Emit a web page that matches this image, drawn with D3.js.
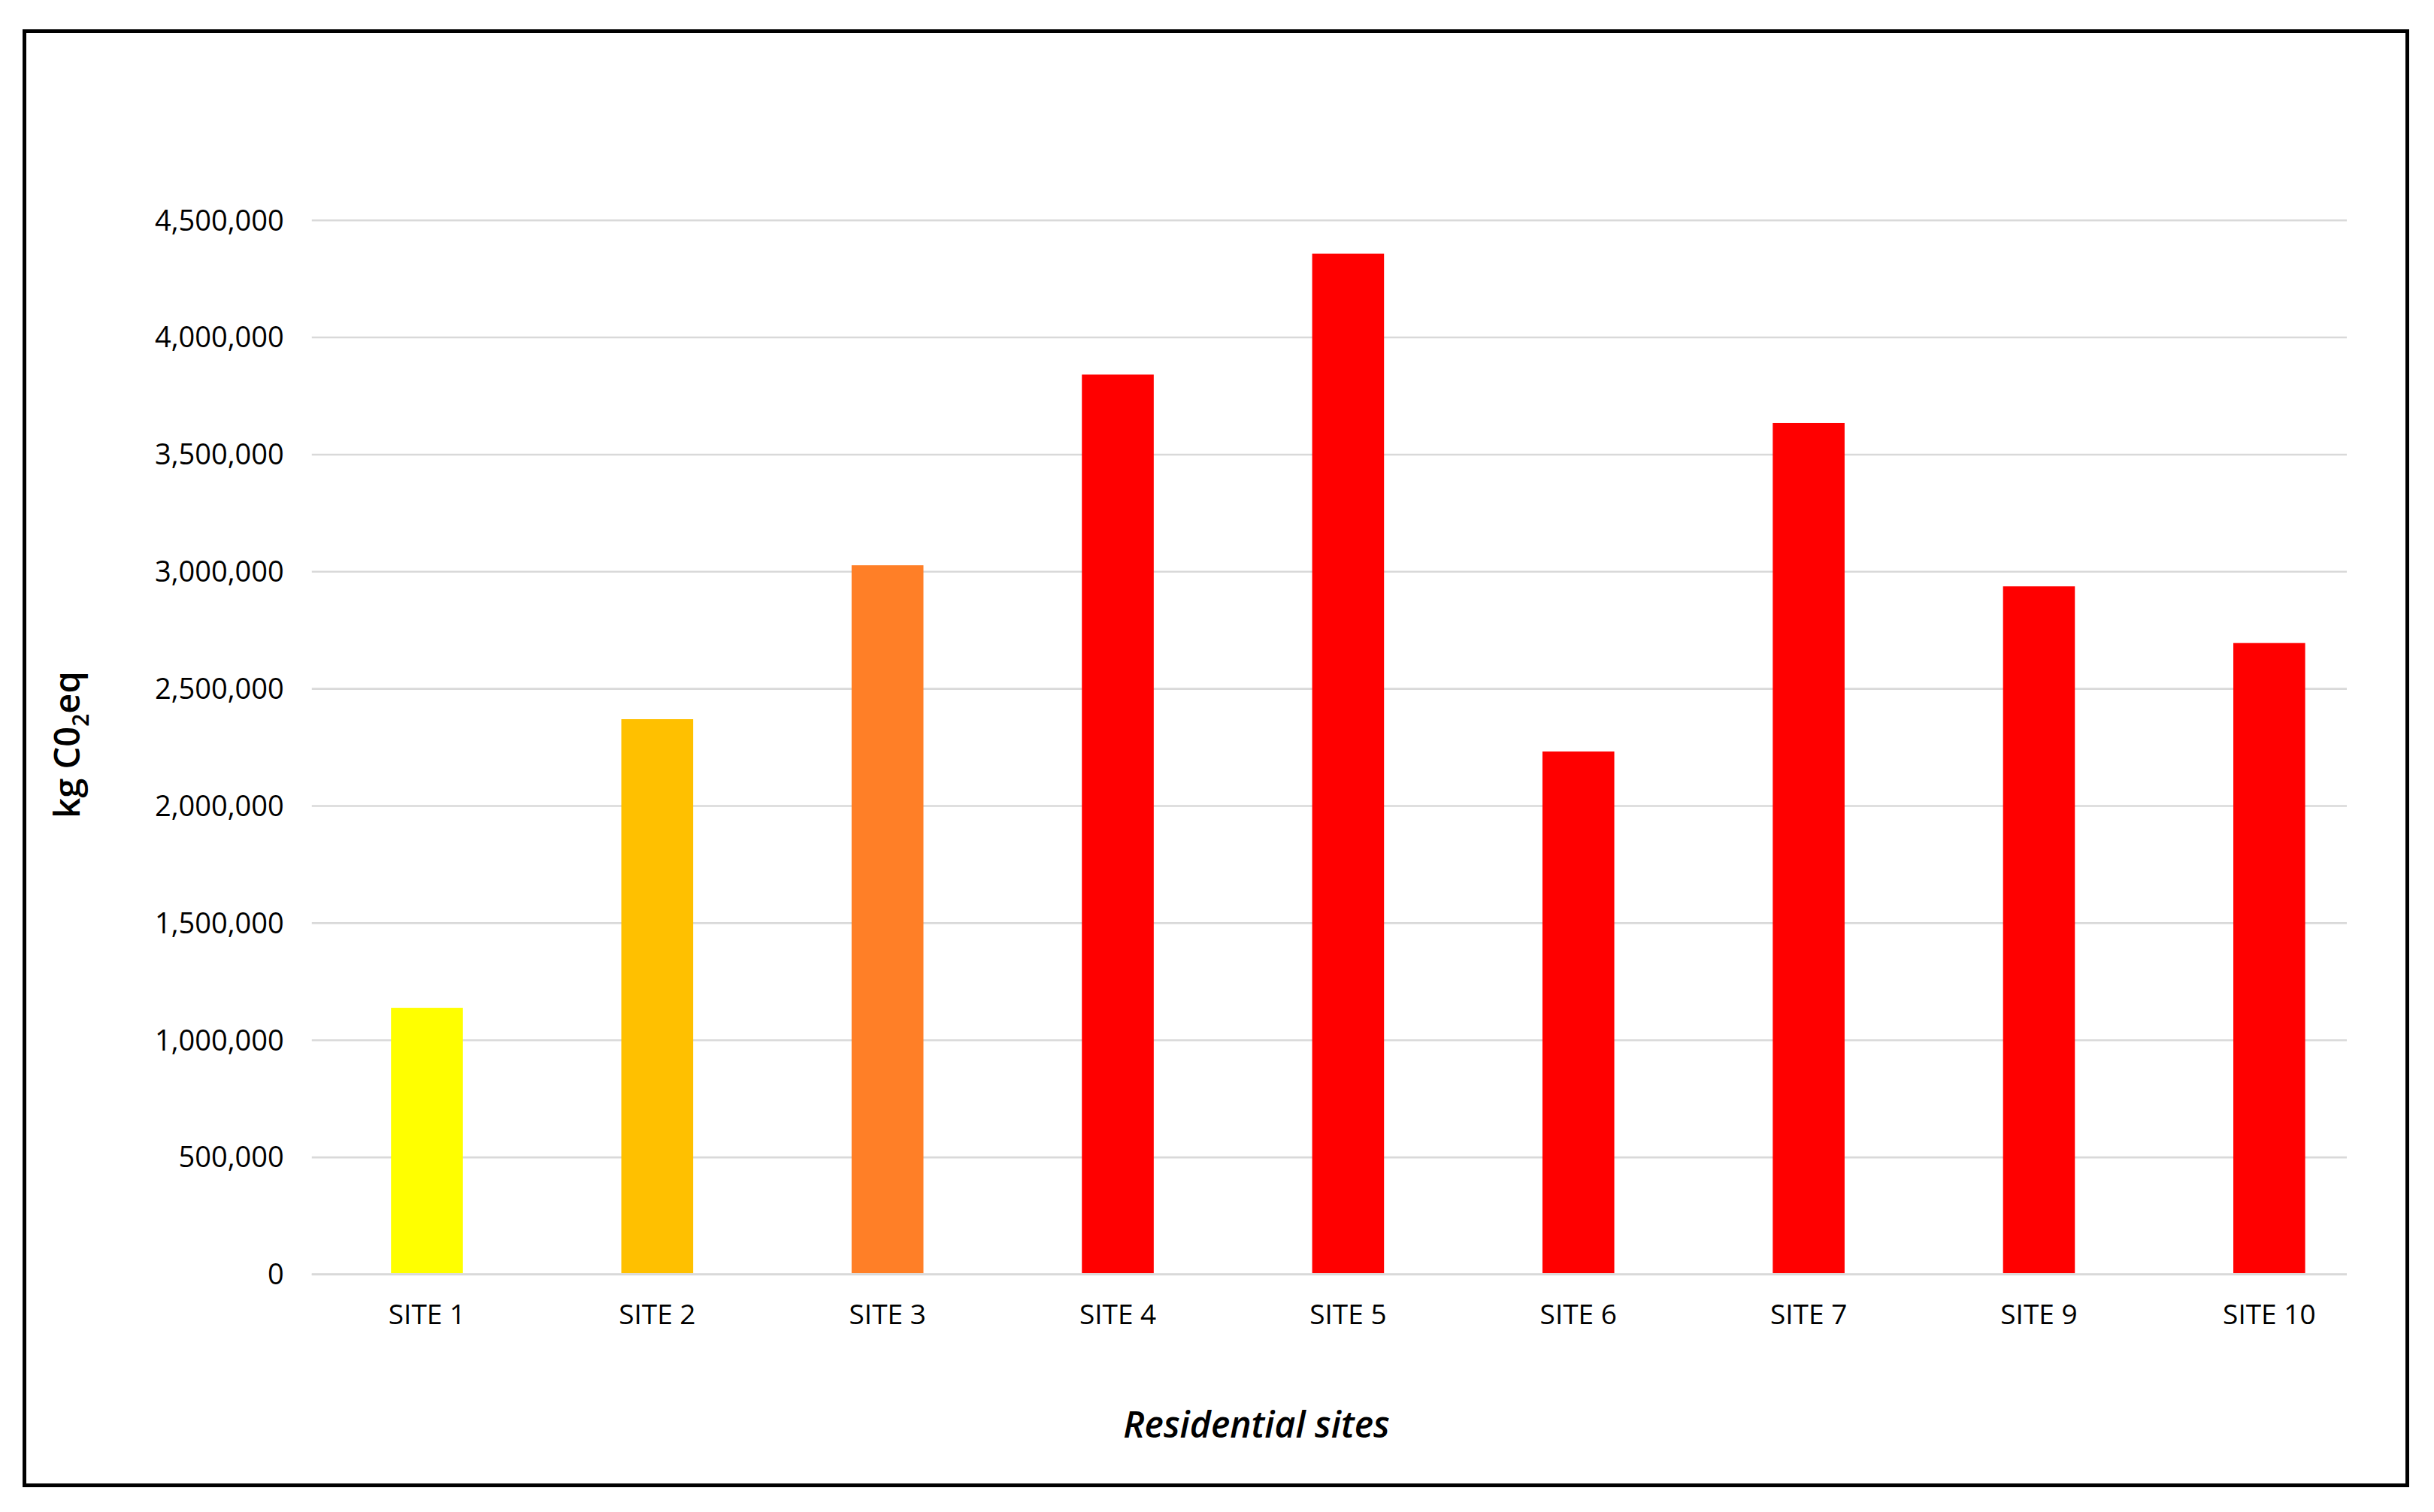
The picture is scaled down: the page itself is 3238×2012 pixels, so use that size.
<!DOCTYPE html>
<html>
<head>
<meta charset="utf-8">
<script src="https://cdn.jsdelivr.net/npm/d3@7"></script>
<style>
  html, body { margin: 0; padding: 0; background: #ffffff; }
  svg { display: block; }
  text { font-family: "Open Sans", "DejaVu Sans", sans-serif; }
</style>
</head>
<body>
<script>
// ---- data ----
const categories = ["SITE 1", "SITE 2", "SITE 3", "SITE 4", "SITE 5", "SITE 6", "SITE 7", "SITE 9", "SITE 10"];
const values = [1137000, 2369000, 3026000, 3840000, 4356000, 2231000, 3633000, 2936000, 2694000];
const barColors = ["#FFFF00", "#FFC000", "#FF7F27", "#FF0000", "#FF0000", "#FF0000", "#FF0000", "#FF0000", "#FF0000"];
const yTicks = [0, 500000, 1000000, 1500000, 2000000, 2500000, 3000000, 3500000, 4000000, 4500000];
const yTitle = "kg C0";
const yTitleSub = "2";
const yTitleEnd = "eq";
const xTitle = "Residential sites";

// ---- layout ----
const W = 3238, H = 2012;
const plotLeft = 414.8, plotRight = 3172, gridRight = 3122;
const plotTop = 292.7, plotBottom = 1695.5;

const svg = d3.select("body").append("svg")
  .attr("width", W).attr("height", H)
  .attr("viewBox", `0 0 ${W} ${H}`);

svg.append("rect").attr("x", 0).attr("y", 0).attr("width", W).attr("height", H).attr("fill", "#ffffff");

// frame
svg.append("rect")
  .attr("x", 32.5).attr("y", 41.5)
  .attr("width", 3202.5 - 32.5).attr("height", 1976.5 - 41.5)
  .attr("fill", "none").attr("stroke", "#000").attr("stroke-width", 5);

const x = d3.scaleBand().domain(categories).range([plotLeft, plotRight])
  .paddingInner(0.688).paddingOuter(0.344);
const y = d3.scaleLinear().domain([0, 4500000]).range([plotBottom, plotTop]);

// gridlines
const grid = svg.append("g").attr("transform", `translate(${plotLeft},0)`)
  .call(d3.axisLeft(y).tickValues(yTicks).tickSize(-(gridRight - plotLeft)).tickFormat(""));
grid.select(".domain").remove();
grid.selectAll(".tick line").attr("stroke", "#d9d9d9").attr("stroke-width", 2.6);

// bars
svg.append("g").selectAll("rect").data(values).join("rect")
  .attr("x", (d, i) => x(categories[i]))
  .attr("width", x.bandwidth())
  .attr("y", d => y(d))
  .attr("height", d => y(0) - y(d) - 1.3)
  .attr("fill", (d, i) => barColors[i]);

// zero line on top
svg.append("line")
  .attr("x1", plotLeft).attr("x2", gridRight)
  .attr("y1", y(0)).attr("y2", y(0))
  .attr("stroke", "#d9d9d9").attr("stroke-width", 2.6);

// y axis labels
const yAxis = svg.append("g").attr("transform", `translate(${plotLeft},0)`)
  .call(d3.axisLeft(y).tickValues(yTicks).tickSize(0).tickPadding(37).tickFormat(d3.format(",")));
yAxis.select(".domain").remove();
yAxis.selectAll("text")
  .attr("font-family", "'Open Sans', sans-serif")
  .attr("font-size", 38).attr("fill", "#000").attr("dy", "0.35em");

// x axis labels
const xAxis = svg.append("g").attr("transform", `translate(0,${plotBottom})`)
  .call(d3.axisBottom(x).tickSize(0).tickPadding(40));
xAxis.select(".domain").remove();
xAxis.selectAll("text")
  .attr("font-family", "'Open Sans', sans-serif")
  .attr("font-size", 37).attr("fill", "#000").attr("dy", "0.71em");

// y title
const yt = svg.append("text")
  .attr("transform", "translate(106,991) rotate(-90)")
  .attr("text-anchor", "middle")
  .attr("font-size", 47).attr("font-weight", 600).attr("fill", "#000");
yt.append("tspan").text(yTitle);
yt.append("tspan").attr("font-size", 30).attr("dy", 12).text(yTitleSub);
yt.append("tspan").attr("dy", -12).text(yTitleEnd);

// x title
svg.append("text")
  .attr("x", 1671.5).attr("y", 1913)
  .attr("text-anchor", "middle")
  .attr("font-size", 48).attr("font-weight", 600).attr("font-style", "italic")
  .attr("fill", "#000")
  .text(xTitle);
</script>
</body>
</html>
